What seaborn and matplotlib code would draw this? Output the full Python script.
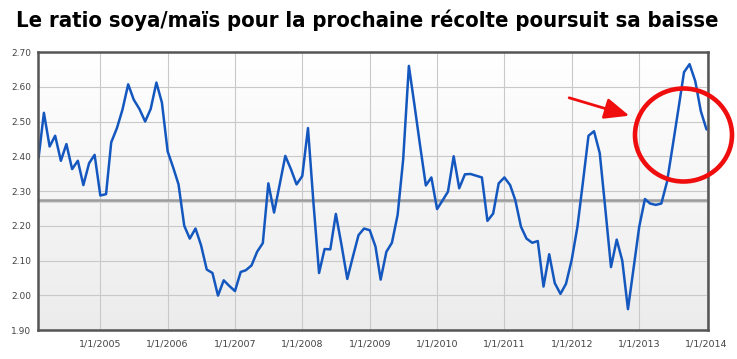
import numpy as np
import pandas as pd
import matplotlib
matplotlib.use("Agg")
import matplotlib.pyplot as plt
from matplotlib.patches import Ellipse, FancyArrowPatch
from matplotlib import font_manager
import seaborn as sns

# ---------------- data ----------------
title = "Le ratio soya/maïs pour la prochaine récolte poursuit sa baisse"
start_month = "2004-02-01"
ratio = [
    # 2004 (Feb-Dec)
    2.395, 2.525, 2.428, 2.459, 2.387, 2.435, 2.363, 2.387, 2.317, 2.380, 2.404,
    # 2005
    2.287, 2.291, 2.440, 2.481, 2.534, 2.607, 2.563, 2.536, 2.500, 2.536, 2.612, 2.554,
    # 2006
    2.414, 2.366, 2.319, 2.200, 2.163, 2.192, 2.144, 2.074, 2.064, 1.999, 2.043, 2.027,
    # 2007
    2.012, 2.067, 2.072, 2.086, 2.125, 2.150, 2.322, 2.238, 2.320, 2.401, 2.362, 2.319,
    # 2008
    2.343, 2.481, 2.270, 2.064, 2.133, 2.132, 2.234, 2.144, 2.047, 2.110, 2.173, 2.192,
    # 2009
    2.187, 2.140, 2.045, 2.125, 2.151, 2.231, 2.390, 2.660, 2.545, 2.430, 2.316, 2.339,
    # 2010
    2.248, 2.274, 2.298, 2.400, 2.308, 2.348, 2.349, 2.344, 2.339, 2.214, 2.235, 2.322,
    # 2011
    2.339, 2.317, 2.274, 2.197, 2.163, 2.151, 2.156, 2.025, 2.118, 2.035, 2.004, 2.033,
    # 2012
    2.102, 2.197, 2.322, 2.459, 2.472, 2.409, 2.250, 2.081, 2.160, 2.100, 1.960, 2.076,
    # 2013
    2.197, 2.277, 2.264, 2.260, 2.264, 2.327, 2.428, 2.534, 2.642, 2.665, 2.616, 2.530,
    # 2014
    2.477,
]
avg_line = 2.275
y_ticks = [1.90, 2.00, 2.10, 2.20, 2.30, 2.40, 2.50, 2.60, 2.70]
x_tick_years = [2005, 2006, 2007, 2008, 2009, 2010, 2011, 2012, 2013, 2014]

dates = pd.date_range(start_month, periods=len(ratio), freq="MS")
df = pd.DataFrame({"date": dates, "ratio": ratio})

# ---------------- figure ----------------
sns.set_theme(style="white")
plt.rcParams["font.family"] = ["DejaVu Sans"]

W, H = 737, 359
fig = plt.figure(figsize=(W / 100, H / 100), dpi=100)
fig.patch.set_facecolor("white")

L, R, T, B = 38, 708, 52, 330
ax = fig.add_axes([L / W, 1 - B / H, (R - L) / W, (B - T) / H])

# gradient background
grad = np.linspace(1.0, 0.0, 256).reshape(-1, 1)
top_c = np.array([1.0, 1.0, 1.0])
bot_c = np.array([0.925, 0.925, 0.925])
img = top_c * grad[..., None] + bot_c * (1 - grad[..., None])
ax.imshow(img, extent=[0, 1, 0, 1], transform=ax.transAxes, aspect="auto",
          zorder=0, interpolation="bilinear")
ax.set_facecolor("white")

# grid
ax.set_axisbelow(True)
ax.grid(True, color="#c9c9c9", linewidth=0.8, zorder=1)

# average line
ax.axhline(avg_line - 0.004, color="#d2d2d2", linewidth=2.0, zorder=2)
ax.axhline(avg_line, color="#9c9c9c", linewidth=1.8, zorder=2)

sns.lineplot(data=df, x="date", y="ratio", ax=ax, color="#1457bf",
             linewidth=1.8, zorder=3)

ax.set_xlim(pd.Timestamp("2004-01-29"), pd.Timestamp("2014-01-09"))
ax.set_ylim(1.90, 2.70)
ax.set_yticks(y_ticks)
ax.set_yticklabels([f"{v:.2f}" for v in y_ticks])
ax.set_xticks([pd.Timestamp(f"{y}-01-01") for y in x_tick_years])
ax.set_xticklabels([f"1/1/{y}" for y in x_tick_years])
ax.tick_params(axis="y", length=0, pad=5, labelsize=6.5, labelcolor="#444444")
ax.tick_params(axis="x", length=0, pad=7, labelsize=6.8, labelcolor="#444444")
ax.set_xlabel("")
ax.set_ylabel("")
for s in ax.spines.values():
    s.set_visible(True)
    s.set_color("#555555")
    s.set_linewidth(1.8)
    s.set_zorder(5)

# title: prefer a condensed bold face
names = {f.name for f in font_manager.fontManager.ttflist}
cond = [f for f in font_manager.fontManager.ttflist
        if f.weight in ("bold", 700, "heavy", 800, 900) and
        ("ondensed" in f.fname or "Narrow" in f.fname or f.stretch in ("condensed", 300, "semi-condensed", 400))]
prefs = ["Liberation Sans Narrow", "Roboto Condensed", "Open Sans Condensed",
         "DejaVu Sans Condensed", "Roboto", "Noto Sans"]
tprops = None
if cond:
    tprops = font_manager.FontProperties(fname=cond[0].fname)
else:
    for p in prefs:
        if p in names:
            tprops = font_manager.FontProperties(family=p, weight="bold")
            break
if tprops is None:
    tprops = font_manager.FontProperties(family="DejaVu Sans", weight="bold")
tprops.set_size(16)
t = fig.text(367 / W, 1 - 20 / H, title, ha="center", va="center",
             fontproperties=tprops, color="black")
fig.canvas.draw()
bb = t.get_window_extent()
t.set_fontsize(16 * 704 / bb.width)

# annotation: red circle and arrow
circ = Ellipse((683.5 / W, 1 - 135 / H), 97 / W, 93 / H, transform=fig.transFigure,
               fill=False, edgecolor="#f00d0d", linewidth=3.3, zorder=10)
fig.add_artist(circ)
arr = FancyArrowPatch((566.5 / W, 1 - 97 / H), (632 / W, 1 - 116.5 / H),
                      transform=fig.transFigure,
                      arrowstyle="-|>,head_length=0.75,head_width=0.32",
                      mutation_scale=20, color="#f00d0d", linewidth=2.0, zorder=10)
fig.add_artist(arr)

fig.savefig("out.png", dpi=100)
